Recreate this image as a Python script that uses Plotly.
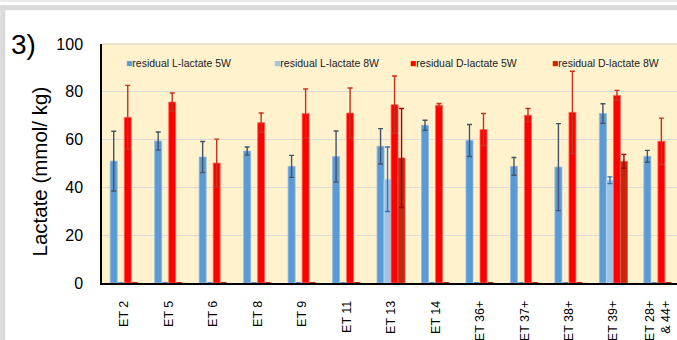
import plotly.graph_objects as go

categories = ["ET 2", "ET 5", "ET 6", "ET 8", "ET 9", "ET 11", "ET 13", "ET 14",
              "ET 36+", "ET 37+", "ET 38+", "ET 39+", "ET 28+<br>& 44+"]

l5w = [51.0, 59.4, 52.7, 55.2, 48.8, 52.9, 57.2, 66.0, 59.6, 48.8, 48.5, 70.9, 53.0]
l5w_err = [12.5, 3.8, 6.5, 1.7, 4.6, 10.7, 7.4, 2.1, 6.7, 3.7, 18.2, 4.1, 2.5]

l8w = [0, 0, 0, 0, 0, 0, 43.4, 0, 0, 0, 0, 43.0, 0]
l8w_err = [0, 0, 0, 0, 0, 0, 13.5, 0, 0, 0, 0, 1.4, 0]

d5w = [69.3, 75.7, 50.2, 67.1, 70.9, 71.1, 74.6, 74.4, 64.2, 70.2, 71.4, 78.5, 59.3]
d5w_err = [13.4, 3.8, 10.0, 4.0, 10.3, 10.5, 12.0, 0.7, 6.7, 2.8, 17.2, 2.1, 9.7]

d8w = [0, 0, 0, 0, 0, 0, 52.3, 0, 0, 0, 0, 50.9, 0]
d8w_err = [0, 0, 0, 0, 0, 0, 20.7, 0, 0, 0, 0, 2.9, 0]

series = [
    ("residual L-lactate 5W", l5w, l5w_err, "#5B9BD5", "#8FB8E3", "#44546A"),
    ("residual L-lactate 8W", l8w, l8w_err, "#9DC3E6", "#C0D8EF", "#2E75B6"),
    ("residual D-lactate 5W", d5w, d5w_err, "#FF0000", "#FF6A5A", "#C8321E"),
    ("residual D-lactate 8W", d8w, d8w_err, "#C9260E", "#D8584A", "#A00000"),
]

fig = go.Figure()
x_idx = list(range(len(categories)))
for name, vals, errs, col, edge, ecol in series:
    fig.add_trace(go.Bar(
        x=x_idx, y=vals, name=name,
        marker=dict(color=col, line=dict(color=edge, width=0.8)),
        error_y=dict(type="data", array=errs, visible=True,
                     color=ecol, thickness=1.4, width=2.5),
        showlegend=False,
    ))

W, H = 677, 340
L, R, T, B = 101.8, 0, 43.7, 57.3
pw, ph = W - L - R, H - T - B

def px_x(px):
    return (px - L) / pw

def px_y(py):
    return (H - B - py) / ph

shapes = [
    dict(type="rect", xref="paper", yref="paper", x0=px_x(0), x1=px_x(5),
         y0=px_y(340), y1=px_y(5), fillcolor="#D9D9D9", line=dict(width=0), layer="below"),
    dict(type="rect", xref="paper", yref="paper", x0=px_x(0), x1=px_x(677),
         y0=px_y(10), y1=px_y(5), fillcolor="#D9D9D9", line=dict(width=0), layer="below"),
    dict(type="rect", xref="paper", yref="paper", x0=px_x(0), x1=px_x(677),
         y0=px_y(1.5), y1=px_y(0), fillcolor="#E3E3E3", line=dict(width=0), layer="below"),
    dict(type="line", xref="paper", yref="paper", x0=0, x1=1,
         y0=1, y1=1, line=dict(color="#EDE3CF", width=2)),
]

annotations = [
    dict(text="3)", xref="paper", yref="paper", x=px_x(23), y=px_y(44),
         showarrow=False, font=dict(size=28, color="black", family="Liberation Sans, Arial"),
         xanchor="center", yanchor="middle"),
    dict(text="Lactate (mmol/ kg)", xref="paper", yref="paper", x=px_x(39), y=px_y(171),
         showarrow=False, textangle=-90,
         font=dict(size=20.5, color="black", family="Liberation Sans, Arial"),
         xanchor="center", yanchor="middle"),
]
legend_x = [124, 272, 408, 550]
for (name, vals, errs, col, edge, ecol), lx in zip(series, legend_x):
    annotations.append(dict(
        text=f'<span style="color:{col}">■</span>{name}',
        xref="paper", yref="paper", x=px_x(lx), y=px_y(63),
        showarrow=False, xanchor="left", yanchor="middle",
        font=dict(size=10.5, color="#222222", family="Liberation Sans, Arial")))

fig.update_layout(
    width=W, height=H,
    margin=dict(l=L, r=R, t=T, b=B, pad=0),
    paper_bgcolor="white",
    plot_bgcolor="#FFF2CC",
    barmode="group", bargap=0.37, bargroupgap=0,
    shapes=shapes, annotations=annotations,
    font=dict(family="Liberation Sans, Arial", color="black"),
    xaxis=dict(
        tickmode="array", tickvals=x_idx, ticktext=categories,
        range=[-0.5, 12.43], tickangle=-90, ticks="",
        tickfont=dict(size=12.5, color="black"),
        showline=True, linecolor="black", linewidth=1.5,
        showgrid=False, zeroline=False, ticklabelstandoff=11,
        automargin=False,
    ),
    yaxis=dict(
        range=[0, 100], tickvals=[0, 20, 40, 60, 80, 100],
        tickfont=dict(size=16, color="black"), ticks="",
        showline=True, linecolor="black", linewidth=1.5,
        showgrid=True, gridcolor="#D9D9D9", gridwidth=1,
        zeroline=False, ticklabelstandoff=14, automargin=False,
    ),
)

fig.write_html("out.html", config={"displayModeBar": False},
               post_script="document.body.style.margin='0';document.body.style.overflow='hidden';")
